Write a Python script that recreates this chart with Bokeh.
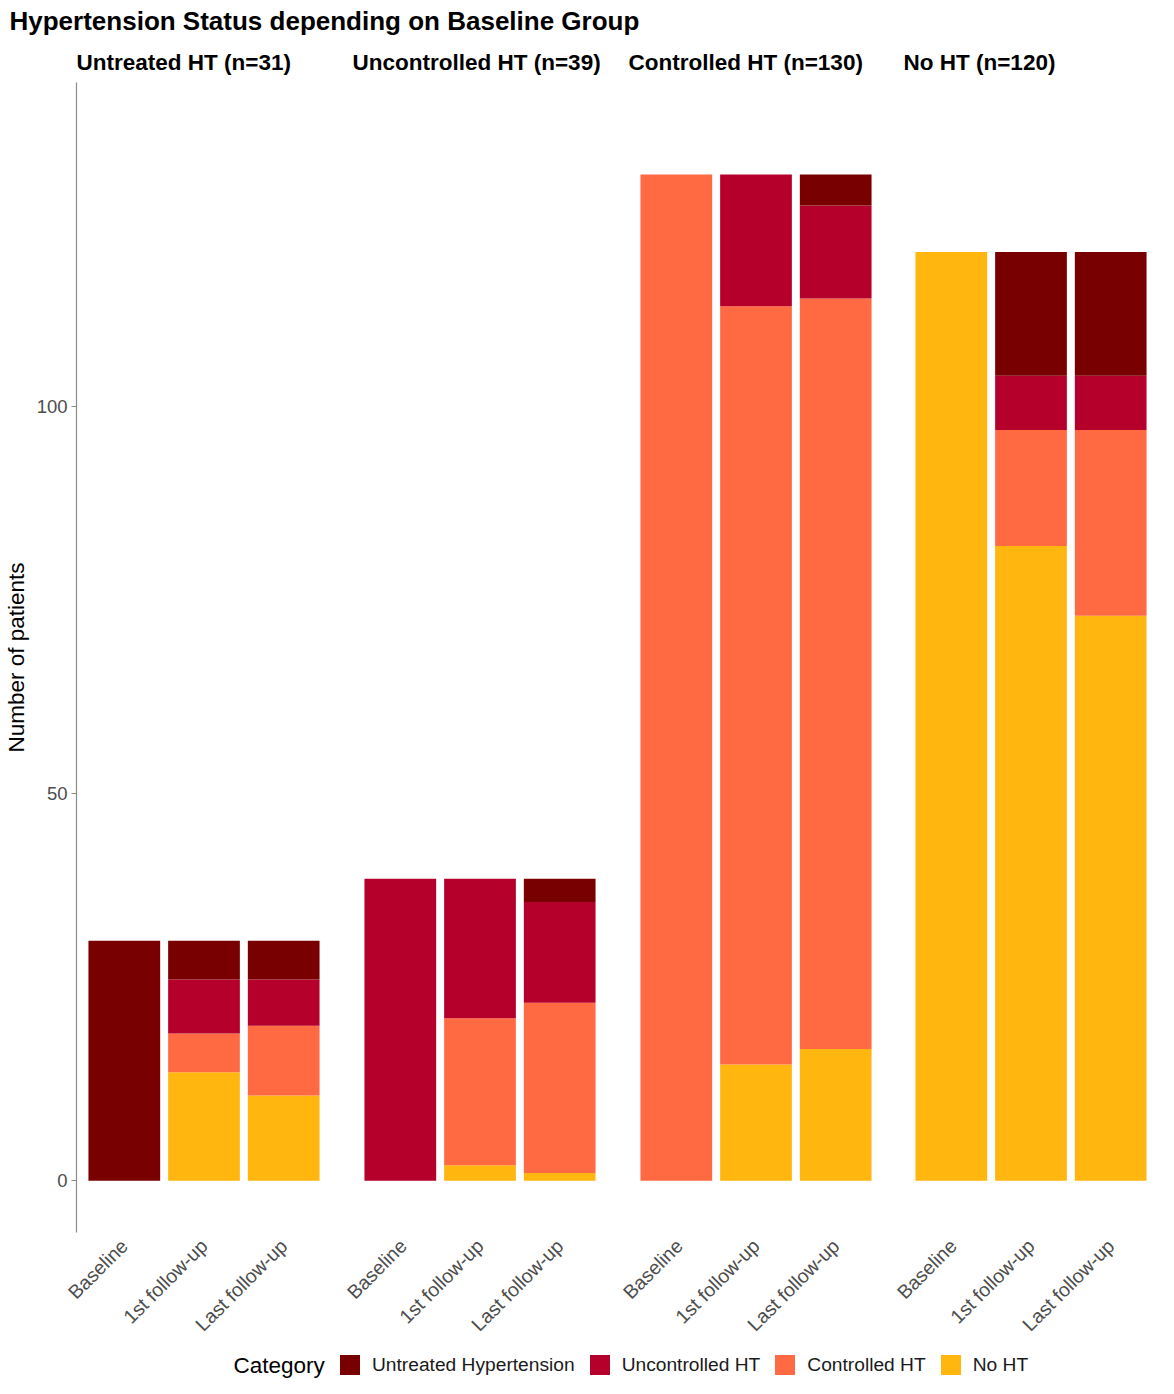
import math
from bokeh.plotting import figure
from bokeh.models import ColumnDataSource, FactorRange, Range1d, Legend, LegendItem, FixedTicker, Label
from bokeh.layouts import column, row
from bokeh.embed import file_html
from bokeh.resources import INLINE

FONT = "Liberation Sans"

# ---------------- data ----------------
title_text = "Hypertension Status depending on Baseline Group"
groups = ["Untreated HT (n=31)", "Uncontrolled HT (n=39)", "Controlled HT (n=130)", "No HT (n=120)"]
timepoints = ["Baseline", "1st follow-up", "Last follow-up"]
categories = ["Untreated Hypertension", "Uncontrolled HT", "Controlled HT", "No HT"]
colors = ["#780000", "#B5002B", "#FF6A42", "#FFB60F"]

# counts per baseline group (outer list), one value per timepoint (inner list)
untreated_hyp = [[31, 5, 5], [0, 0, 3], [0, 0, 4], [0, 16, 16]]
uncontrolled_ht = [[0, 7, 6], [39, 18, 13], [0, 17, 12], [0, 7, 7]]
controlled_ht = [[0, 5, 9], [0, 19, 22], [130, 98, 97], [0, 15, 24]]
no_ht = [[0, 14, 11], [0, 2, 1], [0, 15, 17], [120, 82, 73]]

y_ticks = [0, 50, 100]
y_label = "Number of patients"
legend_title = "Category"

# ---------------- layout ----------------
panel_w = 255
frame_h = 1150
top_b = 46
bot_b = 116
yr = Range1d(-6.7, 141.9)
lefts = [76, 10, 10, 11]
rights = [11, 11, 9, 0]

figs = []
for i, g in enumerate(groups):
    left, right = lefts[i], rights[i]
    p = figure(
        x_range=FactorRange(*timepoints, range_padding=0.1, range_padding_units="absolute"),
        y_range=yr,
        width=left + panel_w + right,
        height=top_b + frame_h + bot_b,
        output_backend="svg",
        toolbar_location=None,
        min_border_left=left,
        min_border_right=right,
        min_border_top=top_b,
        min_border_bottom=bot_b,
        title=g,
    )
    data = {
        "timepoint": timepoints,
        categories[0]: untreated_hyp[i],
        categories[1]: uncontrolled_ht[i],
        categories[2]: controlled_ht[i],
        categories[3]: no_ht[i],
    }
    src = ColumnDataSource(data)
    stack_order = [categories[3], categories[2], categories[1], categories[0]]
    stack_colors = [colors[3], colors[2], colors[1], colors[0]]
    p.vbar_stack(stack_order, x="timepoint", width=0.9, source=src,
                 fill_color=stack_colors, line_color=None)

    p.title.text_font = FONT
    p.title.text_font_size = "22.5px"
    p.title.text_font_style = "bold"
    p.title.text_color = "#000000"
    p.title.align = "left"
    p.title.standoff = 15

    p.xgrid.visible = False
    p.ygrid.visible = False
    p.outline_line_color = None
    p.background_fill_color = "white"

    xa = p.xaxis[0]
    xa.axis_line_color = None
    xa.major_tick_line_color = None
    xa.minor_tick_line_color = None
    xa.major_tick_out = 0
    xa.major_tick_in = 0
    xa.major_label_orientation = math.pi / 4
    xa.major_label_text_font = FONT
    xa.major_label_text_font_size = "19.5px"
    xa.major_label_text_color = "#4D4D4D"
    xa.major_label_standoff = 10

    ya = p.yaxis[0]
    if i == 0:
        ya.ticker = FixedTicker(ticks=y_ticks)
        ya.axis_line_color = "#8C8C8C"
        ya.axis_line_width = 1.2
        ya.major_tick_line_color = "#8C8C8C"
        ya.major_tick_line_width = 1.2
        ya.major_tick_out = 5
        ya.major_tick_in = 0
        ya.minor_tick_line_color = None
        ya.major_label_text_font = FONT
        ya.major_label_text_font_size = "18.5px"
        ya.major_label_text_color = "#4D4D4D"
        ya.major_label_standoff = 4
        ya.axis_label = y_label
        ya.axis_label_text_font = FONT
        ya.axis_label_text_font_size = "22.5px"
        ya.axis_label_text_font_style = "normal"
        ya.axis_label_text_color = "#000000"
        ya.axis_label_standoff = 5
    else:
        ya.visible = False
    figs.append(p)

total_w = sum(f.width for f in figs)

# main title figure
pt = figure(width=total_w, height=36, output_backend="svg", toolbar_location=None,
            title=title_text, min_border_left=0, min_border_right=0,
            min_border_top=35, min_border_bottom=0,
            x_range=Range1d(0, 1), y_range=Range1d(0, 1))
pt.axis.visible = False
pt.grid.visible = False
pt.outline_line_color = None
pt.title.text_font = FONT
pt.title.text_font_size = "26px"
pt.title.text_font_style = "bold"
pt.title.text_color = "#000000"
pt.title.align = "left"
pt.title.offset = 9
pt.title.standoff = 0

# legend figure
pl = figure(width=total_w, height=30, output_backend="svg", toolbar_location=None,
            min_border_left=0, min_border_right=0, min_border_top=0, min_border_bottom=0,
            x_range=Range1d(0, 1), y_range=Range1d(0, 1))
pl.axis.visible = False
pl.grid.visible = False
pl.outline_line_color = None
items = []
for cat, c in zip(categories, colors):
    # zero-size placeholder glyph: only used to draw the legend swatch
    r = pl.vbar(x=[0.5], top=[0], bottom=[0], width=0, fill_color=c, line_color=None)
    items.append(LegendItem(label=cat, renderers=[r]))
leg = Legend(items=items, orientation="horizontal", location=(337, 1))
leg.label_text_font = FONT
leg.label_text_font_size = "19.2px"
leg.label_text_color = "#1A1A1A"
leg.glyph_width = 25
leg.glyph_height = 25
leg.label_height = 25
leg.label_standoff = 10
leg.spacing = 12
leg.padding = 0
leg.margin = 0
leg.border_line_color = None
leg.background_fill_alpha = 0
pl.add_layout(leg, "center")
pl.add_layout(Label(x=233, y=13.5, x_units="screen", y_units="screen", text=legend_title,
                    text_font=FONT, text_font_size="22.5px", text_color="#000000",
                    text_baseline="middle", text_align="left"))

layout = column(pt, row(*figs), pl)
open("out.html", "w").write(file_html(layout, INLINE))
